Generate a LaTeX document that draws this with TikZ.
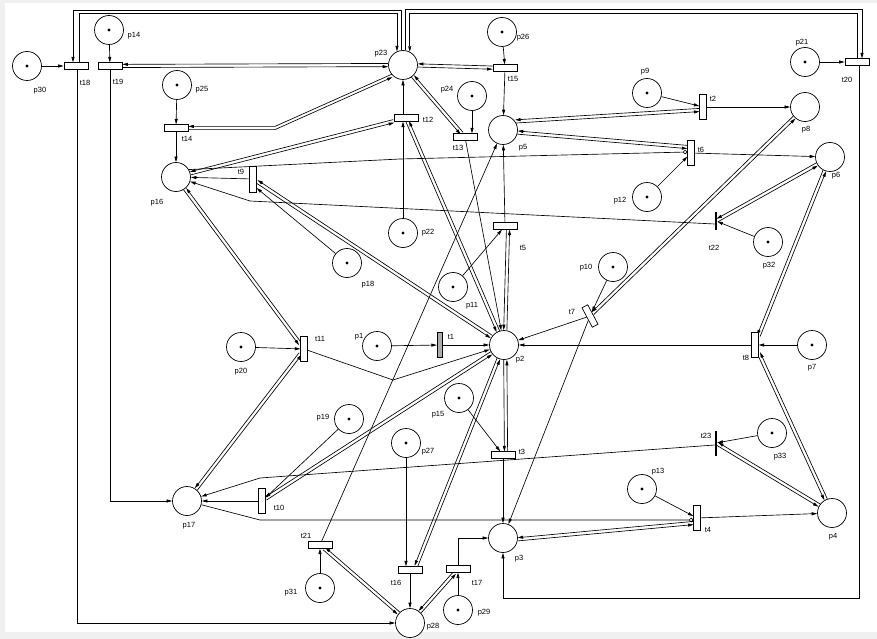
\documentclass[tikz,border=0pt]{standalone}
\usepackage{fontspec}
\setmainfont{Liberation Sans}
\usetikzlibrary{calc,arrows.meta}
\pgfdeclarelayer{back}
\pgfdeclarelayer{bg}
\pgfsetlayers{back,bg,main}
\newcommand\pairarc[2]{%
  \path (#1) -- (#2) coordinate[pos=0] (pa) coordinate[pos=1] (pb);
  \draw[pn,->] ($(pa)!1.6pt!-90:(pb)$) -- ($(pb)!1.6pt!90:(pa)$);
  \draw[pn,->] ($(pb)!1.6pt!-90:(pa)$) -- ($(pa)!1.6pt!90:(pb)$);
}
\tikzset{
  pn/.style={line width=0.65pt, draw=black},
  place/.style={circle, draw, line width=0.7pt, minimum size=29pt, inner sep=0pt, fill=white},
  tok/.style={label={[circle, fill=black, inner sep=0pt, minimum size=3.2pt]center:}},
  th/.style={rectangle, draw, line width=0.7pt, fill=white, minimum width=24pt, minimum height=6.5pt, inner sep=0pt},
  tv/.style={rectangle, draw, line width=0.7pt, fill=white, minimum width=6.5pt, minimum height=25pt, inner sep=0pt},
  tbar/.style={rectangle, fill=black, minimum width=2.3pt, minimum height=25pt, inner sep=0pt},
  lbl/.style={font=\fontsize{7.5}{8}\selectfont, inner sep=0pt},
  inh/.style={-{Circle[open,length=4.5pt,width=4.5pt]}},
  >={Triangle[length=5.5pt,width=3pt]},
}
\begin{document}
\begin{tikzpicture}[x=1pt,y=-1pt]
\useasboundingbox (0,0) rectangle (877,639);
\begin{pgfonlayer}{back}
\fill[gray!12] (0,0) rectangle (877,639);
\fill[white] (5,3) rectangle (877,632);
\end{pgfonlayer}
% places
\node[place,tok] (p30) at (27,66) {};
\node[place,tok] (p14) at (109,30) {};
\node[place,tok] (p25) at (177,85) {};
\node[place] (p16) at (176,177) {};
\node[place] (p23) at (403,65) {};
\node[place,tok] (p24) at (472,96) {};
\node[place,tok] (p26) at (502,32) {};
\node[place] (p5) at (503,130) {};
\node[place,tok] (p9) at (647,93) {};
\node[place] (p8) at (805,107) {};
\node[place,tok] (p21) at (805,62) {};
\node[place] (p6) at (830,157) {};
\node[place,tok] (p12) at (647,197) {};
\node[place,tok] (p32) at (768,242) {};
\node[place,tok] (p10) at (613,267) {};
\node[place,tok] (p7) at (812,345) {};
\node[place,tok] (p22) at (403,233) {};
\node[place,tok] (p18) at (347,263) {};
\node[place,tok] (p11) at (453,287) {};
\node[place,tok] (p1) at (377,346) {};
\node[place,tok] (p20) at (241,347) {};
\node[place] (p2) at (504,345) {};
\node[place,tok] (p15) at (459,398) {};
\node[place,tok] (p19) at (349,419) {};
\node[place,tok] (p27) at (406,443) {};
\node[place] (p17) at (187,501) {};
\node[place] (p3) at (503,538) {};
\node[place,tok] (p13) at (642,489) {};
\node[place,tok] (p33) at (772,433) {};
\node[place] (p4) at (832,513) {};
\node[place,tok] (p31) at (320,588) {};
\node[place,tok] (p29) at (458,610) {};
\node[place] (p28) at (410,623) {};
% transitions
\node[th] (t18) at (76,66) {};
\node[th] (t19) at (110,66) {};
\node[th] (t14) at (176,128) {};
\node[tv, minimum height=26pt] (t9) at (253,179) {};
\node[th] (t12) at (406,118) {};
\node[th] (t13) at (465,137) {};
\node[th] (t15) at (505,68) {};
\node[tv] (t2) at (703,107) {};
\node[th] (t20) at (857,62) {};
\node[tv] (t6) at (691,153) {};
\node[tbar, minimum height=18pt] (t22) at (716,221) {};
\node[th] (t5) at (505,226) {};
\node[tv, minimum height=22pt, rotate=28] (t7) at (590,316) {};
\node[tv] (t8) at (755,345) {};
\node[tv, fill=gray!65, minimum width=5.5pt] (t1) at (440,345) {};
\node[tv] (t11) at (304,349) {};
\node[th] (t3) at (503,455) {};
\node[tv] (t10) at (262,501) {};
\node[th] (t21) at (320,545) {};
\node[th] (t16) at (410,570) {};
\node[th] (t17) at (458,569) {};
\node[tv] (t4) at (697,518) {};
\node[tbar] (t23) at (716,443) {};
% labels
\node[lbl] (lp30) at (40,91) {p30};
\node[lbl] (lt18) at (85,83) {t18};
\node[lbl] (lt19) at (118,82) {t19};
\node[lbl] (lp14) at (134,36) {p14};
\node[lbl] (lp25) at (202,90) {p25};
\node[lbl] (lt14) at (187,139) {t14};
\node[lbl] (lp16) at (157,203) {p16};
\node[lbl] (lt9) at (241,172) {t9};
\node[lbl] (lp23) at (381,54) {p23};
\node[lbl] (lt12) at (428,120) {t12};
\node[lbl] (lp24) at (447,90) {p24};
\node[lbl] (lt13) at (458,148) {t13};
\node[lbl] (lp26) at (523,38) {p26};
\node[lbl] (lt15) at (513,79) {t15};
\node[lbl] (lp5) at (523,148) {p5};
\node[lbl] (lp9) at (645,72) {p9};
\node[lbl] (lt2) at (713,99) {t2};
\node[lbl] (lp21) at (802,43) {p21};
\node[lbl] (lt20) at (847,80) {t20};
\node[lbl] (lp8) at (806,130) {p8};
\node[lbl] (lt6) at (701,150) {t6};
\node[lbl] (lp6) at (836,176) {p6};
\node[lbl] (lp12) at (620,201) {p12};
\node[lbl] (lt22) at (714,248) {t22};
\node[lbl] (lp32) at (769,266) {p32};
\node[lbl] (lp10) at (586,268) {p10};
\node[lbl] (lt7) at (572,312) {t7};
\node[lbl] (lt8) at (746,358) {t8};
\node[lbl] (lp7) at (812,368) {p7};
\node[lbl] (lt5) at (523,248) {t5};
\node[lbl] (lp22) at (428,233) {p22};
\node[lbl] (lp18) at (368,285) {p18};
\node[lbl] (lp11) at (472,306) {p11};
\node[lbl] (lp1) at (359,337) {p1};
\node[lbl] (lt1) at (451,337) {t1};
\node[lbl] (lt11) at (320,339) {t11};
\node[lbl] (lp2) at (520,360) {p2};
\node[lbl] (lp20) at (241,372) {p20};
\node[lbl] (lp15) at (438,415) {p15};
\node[lbl] (lt3) at (522,452) {t3};
\node[lbl] (lp19) at (323,418) {p19};
\node[lbl] (lp27) at (428,452) {p27};
\node[lbl] (lt10) at (279,508) {t10};
\node[lbl] (lp17) at (189,526) {p17};
\node[lbl] (lt21) at (306,536) {t21};
\node[lbl] (lt16) at (396,583) {t16};
\node[lbl] (lt17) at (477,583) {t17};
\node[lbl] (lp31) at (291,593) {p31};
\node[lbl] (lp29) at (484,613) {p29};
\node[lbl] (lp28) at (433,627) {p28};
\node[lbl] (lp3) at (519,559) {p3};
\node[lbl] (lp13) at (658,472) {p13};
\node[lbl] (lt4) at (708,530) {t4};
\node[lbl] (lt23) at (706,436) {t23};
\node[lbl] (lp33) at (780,457) {p33};
\node[lbl] (lp4) at (833,537) {p4};
% bend points
\coordinate (tl1) at (73,10);
\coordinate (tl2) at (79,13);
\coordinate (tr1) at (862,9);
\coordinate (tr2) at (857,13);
\coordinate (br) at (859,598);
\coordinate (b1) at (275,128);
\coordinate (k0) at (400,159);
\coordinate (k1) at (250,201);
\coordinate (k2) at (260,478);
\coordinate (k3) at (260,520);
\coordinate (k4) at (393,380);
\begin{pgfonlayer}{bg}
% single arcs
\draw[pn,->] (p30) -- (t18);
\draw[pn,->] (p14) -- (t19);
\draw[pn,->] ([xshift=1pt]t18.south) |- (p28);
\draw[pn,->] (t19) |- (p17);
\draw[pn,->] (p25) -- (t14);
\draw[pn,->] (t14) -- (p16);
\draw[pn,->] (p26) -- (t15);
\draw[pn,->] (t15) -- (p5);
\draw[pn,->] (p24) -- (p24 |- t13.north);
\draw[pn,->] (t13) -- (p2);
\draw[pn,->] (t12.north -| p23) -- (p23);
\draw[pn,->] (p22) -- (p22 |- t12.south);
\draw[pn,->] (p9) -- (t2);
\draw[pn,->] (t2) -- (p8);
\draw[pn,->] (p21) -- (t20);
\draw[pn,->] (p12) -- (t6);
\draw[pn,->] (t6) -- (p6);
\draw[pn,inh] (p16.30) -- (k0) -- ([yshift=1pt]t6.west);
\draw[pn,->] (t21) -- (p5);
\draw[pn,->] (p11) -- (t5);
\draw[pn,->] (t5) -- (p5);
\draw[pn,->] (p10) -- (t7);
\draw[pn,->] (t7) -- (p2);
\draw[pn,->] (t7) -- (p3);
\draw[pn,->] (p32) -- (t22);
\draw[pn,->] ([yshift=-3pt]t22.west) -- (k1) -- (p16);
\draw[pn,->] (p7) -- (t8);
\draw[pn,->] (t8) -- (p2);
\draw[pn,->] (p33) -- (t23);
\draw[pn,->] ([yshift=-2pt]t23.west) -- (k2) -- (p17);
\draw[pn,->] (p13) -- (t4);
\draw[pn,->] (t4) -- (p4);
\draw[pn,inh] (p17) -- (k3) -- ([yshift=-2pt]t4.west);
\draw[pn,->] (p19) -- (t10);
\draw[pn,->] (t10) -- (p17);
\draw[pn,->] (p20) -- (t11);
\draw[pn,->] (t11) -- (k4) -- (p2);
\draw[pn,->] (p18) -- ([yshift=-9pt]t9.east);
\draw[pn,->] (t9) -- (p16);
\draw[pn,->] (p1) -- (t1);
\draw[pn,->] (t1) -- (p2);
\draw[pn,->] (p15) -- (t3);
\draw[pn,->] (t3) -- (p3);
\draw[pn,->] (p27) -- (p27 |- t16.north);
\draw[pn,->] (t16) -- (p28);
\draw[pn,->] (p29) -- (t17);
\draw[pn,->] (t17) |- (p3);
\draw[pn,->] (p31) -- (t21);
% frame arcs
\draw[pn,->] (p23.96) |- (tl1) -- (t18.north -| tl1);
\draw[pn,->] (t18.north -| tl2) -- (tl2) -| (p23.114);
\draw[pn,->] (p23.82) |- (tr1) -- (t20.north -| tr1);
\draw[pn,->] (t20.north -| tr2) -- (tr2) -| (p23.63);
\draw[pn,->] (t20.south -| br) -- (br) -| (p3);
% paired arcs
\pairarc{t19}{p23}
\pairarc{t15}{p23}
\draw[pn,->] ([yshift=1.6pt]p23.225) -- ([yshift=1.6pt]b1) -- ([yshift=1.6pt]t14.east);
\draw[pn,->] ([yshift=-1.6pt]t14.east) -- ([yshift=-1.6pt]b1) -- ([yshift=-1.6pt]p23.225);
\pairarc{p16}{t12}
\pairarc{t12}{p2}
\pairarc{p23}{t13}
\pairarc{p5.35}{[yshift=-3pt]t2.west}
\pairarc{p5.-10}{[yshift=6pt]t6.west}
\pairarc{p2.85}{[xshift=3pt]t5.south}
\pairarc{p8}{t7}
\pairarc{p6}{t22}
\pairarc{p6}{t8}
\pairarc{t8}{p4}
\pairarc{t23}{p4}
\pairarc{p3.-5}{[yshift=-5pt]t4.west}
\pairarc{p2.-85}{[xshift=3pt]t3.north}
\pairarc{p2}{[xshift=6pt]t16.north}
\pairarc{p28}{t17}
\pairarc{p28}{t21}
\pairarc{p16}{t11}
\pairarc{t11}{p17}
\pairarc{p2}{t9}
\pairarc{p2}{t10}
\end{pgfonlayer}
\end{tikzpicture}
\end{document}
